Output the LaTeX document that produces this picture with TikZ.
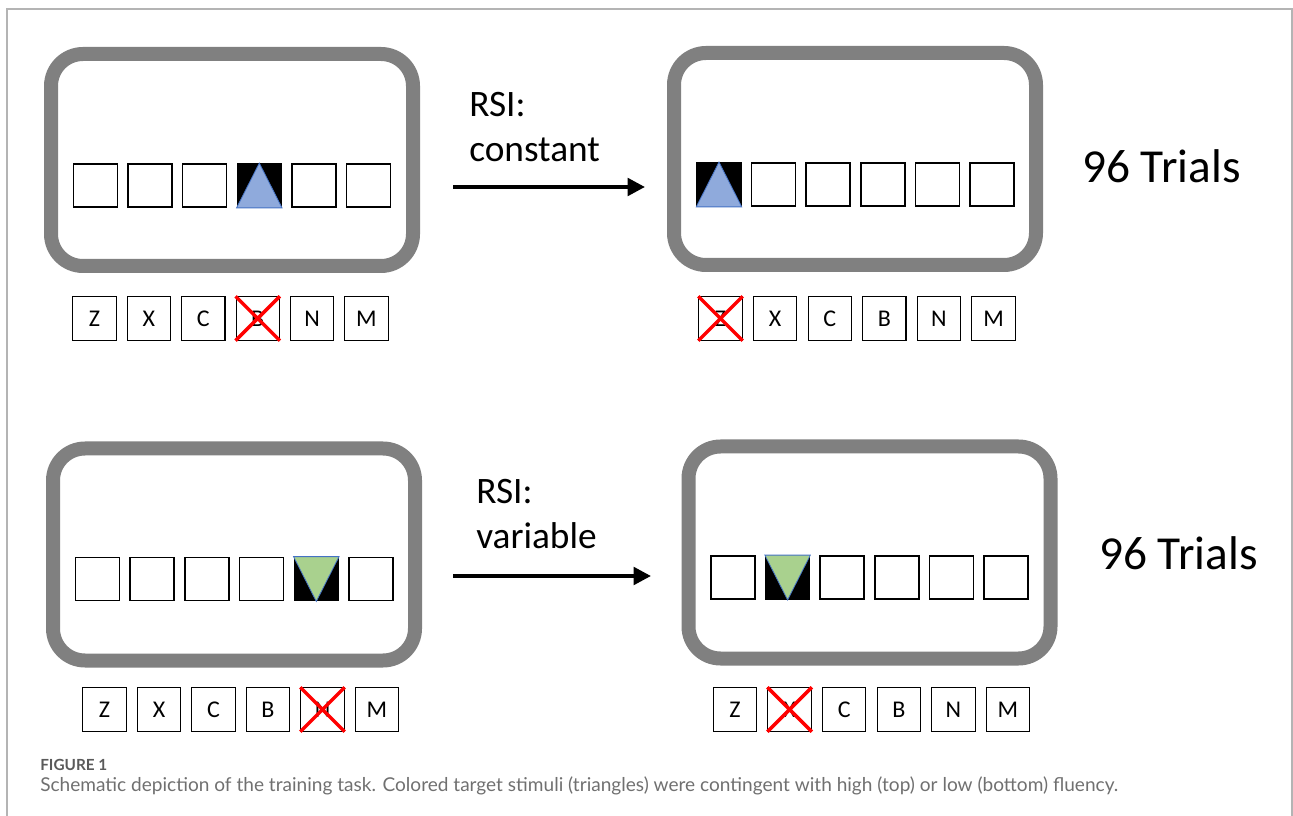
\documentclass[tikz,border=0pt]{standalone}
\usepackage{fontspec}
\setmainfont{Carlito}
\newfontfamily\capfont{Lato}
\usetikzlibrary{arrows.meta,positioning}
\definecolor{screengray}{HTML}{808080}
\definecolor{triblue}{HTML}{8FAADC}
\definecolor{triedge}{HTML}{4472C4}
\definecolor{trigreen}{HTML}{A9D18E}
\definecolor{capgray}{HTML}{707070}
\definecolor{figgray}{HTML}{5A5A5A}
\definecolor{framegray}{HTML}{B4B4B4}
\tikzset{
  screen/.style={draw=screengray,line width=10.5pt,rounded corners=24pt,minimum width=271.5pt,minimum height=159pt,inner sep=0pt},
  stim/.style={draw,line width=1.1pt,minimum width=33pt,minimum height=32.5pt,inner sep=0pt},
  key/.style={draw,line width=0.8pt,minimum size=32.5pt,inner sep=0pt,font=\fontsize{18}{20}\selectfont},
  miss/.style={draw=red,line width=2.6pt},
  target/.style={draw=triedge,line width=0.6pt},
  flow/.style={line width=3pt,-{Triangle[length=13pt,width=13pt]}},
  trials/.style={font=\fontsize{35.5}{40}\selectfont,inner sep=0pt,anchor=west},
  rsi/.style={font=\fontsize{28}{33.5}\selectfont,align=left,inner sep=0pt,anchor=north west},
}

\begin{document}
\begin{tikzpicture}[x=0.75pt,y=-0.75pt]
	\useasboundingbox (0,0) rectangle (1293,816);
	\draw[framegray,line width=1.5pt] (7,816) -- (7,9) -- (1292,9) -- (1292,816);

	% screens
	\node[screen] (scrTL) at (232,160) {};
	\node[screen] (scrTR) at (855,159) {};
	\node[screen] (scrBL) at (234,554.5) {};
	\node[screen] (scrBR) at (869.5,552.5) {};

	% stimulus rows
	\foreach \i in {1,...,6} {
		\node[stim] (tl\i) at ({95.5+54.6*(\i-1)},185.5) {};
		\node[stim] (tr\i) at ({719+54.6*(\i-1)},184.5) {};
		\node[stim] (bl\i) at ({97.5+54.7*(\i-1)},579) {};
		\node[stim] (br\i) at ({733+54.6*(\i-1)},577.5) {};
	}
	\fill (tl4.south west) rectangle (tl4.north east);
	\filldraw[target,fill=triblue] (tl4.south west) -- (tl4.north) -- (tl4.south east) -- cycle;
	\fill (tr1.south west) rectangle (tr1.north east);
	\filldraw[target,fill=triblue] (tr1.south west) -- (tr1.north) -- (tr1.south east) -- cycle;
	\fill (bl5.south west) rectangle (bl5.north east);
	\filldraw[target,fill=trigreen] (bl5.north west) -- (bl5.south) -- (bl5.north east) -- cycle;
	\fill (br2.south west) rectangle (br2.north east);
	\filldraw[target,fill=trigreen] (br2.north west) -- (br2.south) -- (br2.north east) -- cycle;

	% keyboards
	\foreach \k [count=\i] in {Z,X,C,B,N,M} {
		\node[key] (tlk\i) at ({94.5+54.4*(\i-1)},318.5) {\k};
		\node[key] (trk\i) at ({720.5+54.6*(\i-1)},318.5) {\k};
		\node[key] (blk\i) at ({104.5+54.5*(\i-1)},709.5) {\k};
		\node[key] (brk\i) at ({735+54.6*(\i-1)},709.5) {\k};
	}
	\draw[miss] (tlk4.south west) -- (tlk4.north east) (tlk4.north west) -- (tlk4.south east);
	\draw[miss] (trk1.south west) -- (trk1.north east) (trk1.north west) -- (trk1.south east);
	\draw[miss] (blk5.south west) -- (blk5.north east) (blk5.north west) -- (blk5.south east);
	\draw[miss] (brk2.south west) -- (brk2.north east) (brk2.north west) -- (brk2.south east);

	% transitions
	\coordinate (goT) at (453,187);
	\coordinate (endT) at (645,187);
	\coordinate (goB) at (453,576);
	\coordinate (endB) at (651,576);
	\draw[flow] (goT) -- (endT);
	\draw[flow] (goB) -- (endB);
	\node[rsi] (rsiT) at (469,92) {RSI:\\constant};
	\node[rsi] (rsiB) at (476,479) {RSI:\\variable};
	\node[trials] (nT) at (1082,166) {96 Trials};
	\node[trials] (nB) at (1099,553) {96 Trials};

	% caption
	\node[anchor=west,inner sep=0pt,text=figgray,font=\capfont\bfseries\fontsize{11.5}{13}\selectfont] (fig) at (40,765) {FIGURE 1};
	\node[anchor=west,inner sep=0pt,text=capgray,font=\capfont\fontsize{14.3}{16}\selectfont] (cap) at (40,786) {Schematic depiction of the training task. Colored target stimuli (triangles) were contingent with high (top) or low (bottom) fluency.};
\end{tikzpicture}
\end{document}
